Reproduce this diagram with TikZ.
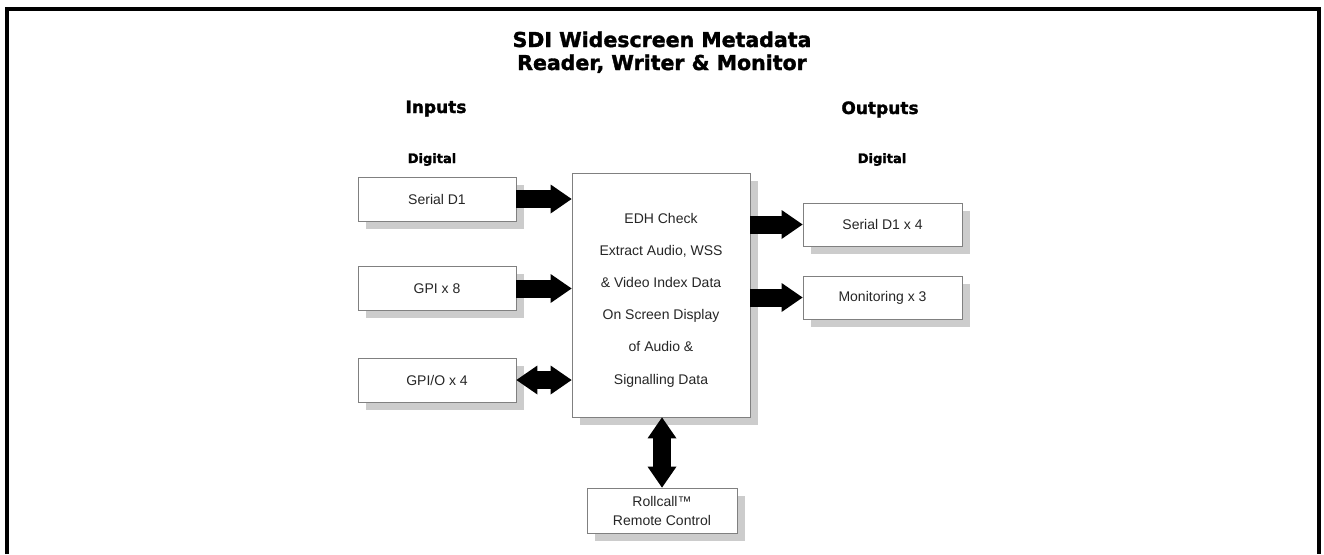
\documentclass[tikz,border=0pt]{standalone}
\usepackage{fontspec}
\setmainfont{Liberation Sans}
\newfontfamily\headfont{DejaVu Sans Bold}[FakeBold=1.6]
\usetikzlibrary{arrows.meta,shadows}
\definecolor{boxgray}{HTML}{808080}
\definecolor{shadowgray}{HTML}{CCCCCC}
\definecolor{txt}{HTML}{262626}
\tikzset{
  >={Triangle[length=21pt,width=29pt,line width=0pt]},
  box/.style={draw=boxgray, line width=0.8pt, fill=white, text=txt, inner sep=0pt,
    font=\fontsize{14}{19}\selectfont, align=center,
    drop shadow={fill=shadowgray, opacity=1, shadow xshift=7.5pt, shadow yshift=-7.5pt}},
  inbox/.style={box, minimum width=158pt, minimum height=44pt},
  outbox/.style={box, minimum width=159pt, minimum height=43pt},
  fat/.style={line width=18pt, black, ->},
  heading/.style={font=\headfont\fontsize{17}{20}\selectfont, anchor=base, inner sep=0pt},
  subheading/.style={font=\headfont\fontsize{13}{16}\selectfont, anchor=base, inner sep=0pt},
  titletext/.style={font=\headfont\fontsize{20.5}{24}\selectfont, anchor=base, inner sep=0pt},
}
\begin{document}
\begin{tikzpicture}[x=1pt,y=-1pt]
\useasboundingbox (0,0) rectangle (1324,554);
\fill[white] (0,0) rectangle (1324,554);
\draw[line width=4pt] (7,554) -- (7,9) -- (1319,9) -- (1319,554);

\node[titletext] (t1) at (662,47) {SDI Widescreen Metadata};
\node[titletext] (t2) at (662,70) {Reader, Writer \& Monitor};
\node[heading] (hin) at (436,113) {Inputs};
\node[heading] (hout) at (880,114) {Outputs};
\node[subheading] (din) at (432,163) {Digital};
\node[subheading] (dout) at (882,163) {Digital};

\node[inbox] (sd1) at (437,199) {Serial D1};
\node[inbox] (gpi) at (437,288.5) {GPI x 8};
\node[inbox] (gpio) at (437,380) {GPI/O x 4};

\node[box, minimum width=178pt, minimum height=244pt] (main) at (661,295) {};
\node[text=txt, font=\fontsize{14}{32.2}\selectfont, align=center, inner sep=0pt] (mtext) at (661,300)
  {EDH Check\\Extract Audio, WSS\\\& Video Index Data\\On Screen Display\\of Audio \&\\Signalling Data};

\node[outbox] (out1) at (882.5,224.5) {Serial D1 x 4};
\node[outbox] (out2) at (882.5,297.5) {Monitoring x 3};

\node[box, minimum width=150pt, minimum height=45pt] (rc) at (662,510.5) {Rollcall™\\Remote Control};

\draw[fat] (sd1.east) -- (sd1.east -| main.west);
\draw[fat] (gpi.east) -- (gpi.east -| main.west);
\draw[fat,<->] (gpio.east) -- (gpio.east -| main.west);
\draw[fat] (main.east |- out1.west) -- (out1.west);
\draw[fat] (main.east |- out2.west) -- (out2.west);
\draw[fat,<->] (main.south -| rc.north) -- (rc.north);
\end{tikzpicture}
\end{document}
